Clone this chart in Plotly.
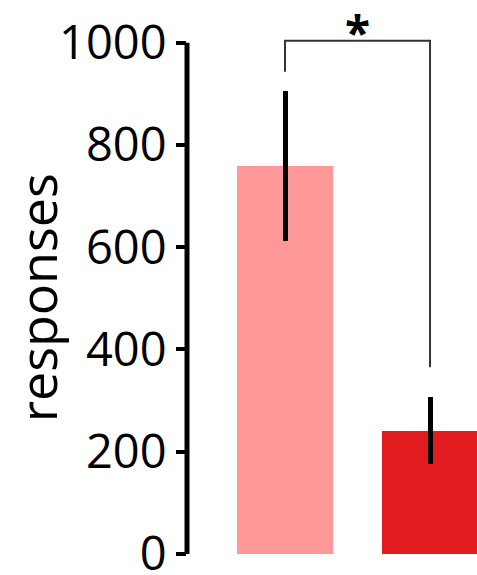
import plotly.graph_objects as go

categories = [0, 1]
means = [759, 241]
errors = [147, 66]
colors = ["#FF9999", "#E21B1E"]
y_ticks = [0, 200, 400, 600, 800, 1000]
y_title = "responses"
sig_label = "*"
bracket_left_bottom = 943
bracket_top = 1004
bracket_right_bottom = 365

fig = go.Figure()
fig.add_trace(go.Bar(
    x=categories, y=means, width=0.662,
    marker=dict(color=colors, line=dict(width=0)),
    error_y=dict(type="data", array=errors, visible=True, thickness=5, width=0, color="black"),
    showlegend=False,
))

# y axis line (only to 1000)
fig.add_shape(type="line", xref="paper", yref="y", x0=0, x1=0, y0=0, y1=max(y_ticks),
              line=dict(color="black", width=5))

# significance bracket
fig.add_shape(type="path", xref="x", yref="y",
              path=f"M {categories[0]},{bracket_left_bottom} L {categories[0]},{bracket_top} "
                   f"L {categories[1]},{bracket_top} L {categories[1]},{bracket_right_bottom}",
              line=dict(color="#333333", width=2))
fig.add_annotation(x=(categories[0] + categories[1]) / 2, y=1, xref="x", yref="paper",
                   text="<b>" + sig_label + "</b>", showarrow=False, yanchor="top", yshift=13,
                   font=dict(family="Open Sans", size=46, color="black"))

fig.add_annotation(x=0, y=500, xref="paper", yref="y", text=y_title, textangle=-90,
                   showarrow=False, xanchor="center", yanchor="middle", xshift=-151,
                   font=dict(family="Open Sans", size=52, color="black"))

fig.update_layout(
    width=477, height=575,
    margin=dict(l=187, r=0, t=12, b=19),
    plot_bgcolor="white", paper_bgcolor="white",
    bargap=0,
    xaxis=dict(range=[-0.676, 1.324], showticklabels=False, showgrid=False, zeroline=False,
               showline=False, ticks=""),
    yaxis=dict(range=[-4, 1060], tickvals=y_ticks, ticktext=[str(v) for v in y_ticks],
               showgrid=False, zeroline=False, showline=False, ticks="outside",
               ticklen=10, tickwidth=4, tickcolor="black", automargin=False,
               ticklabeloverflow="allow",
               tickfont=dict(family="Open Sans", size=47, color="black")),
)
fig.write_html("out.html")
